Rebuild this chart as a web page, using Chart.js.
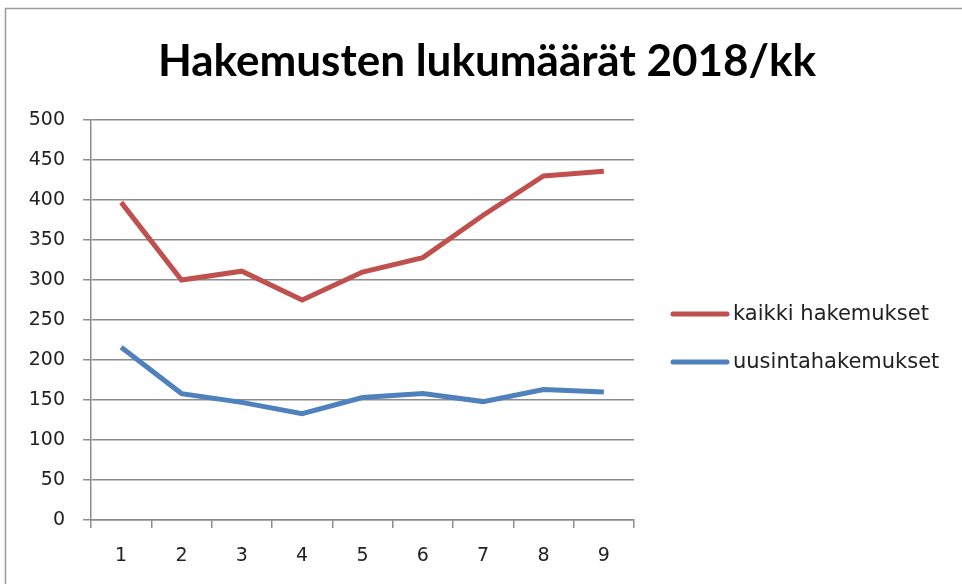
<!DOCTYPE html>
<html>
<head>
<meta charset="utf-8">
<script src="https://cdn.jsdelivr.net/npm/chart.js@4/dist/chart.umd.min.js"></script>
<style>
  html, body { margin: 0; padding: 0; background: #fff; }
  #wrap { width: 962px; height: 584px; }
</style>
</head>
<body>
<div id="wrap"><canvas id="kaavio" width="962" height="584"></canvas></div>
<script>
// kuukaudet ja sarjat
const kuukaudet = ['1', '2', '3', '4', '5', '6', '7', '8', '9'];
const kaikki = [397, 300, 311, 275, 310, 328, 381, 430, 436];
const uusinta = [216, 158, 147, 133, 153, 158, 148, 163, 160];
const yTicks = [0, 50, 100, 150, 200, 250, 300, 350, 400, 450, 500];
const otsikko = 'Hakemusten lukumäärät 2018/kk';

const punainen = '#c0504d';
const sininen = '#4f81bd';
const harmaa = '#8c8c8c';

// tausta, kehys ja otsikko (otsikko keskitetään koko kuvaan, ei piirtoalueeseen)
const kehys = {
    id: 'kehys',
    beforeDraw(chart) {
        const ctx = chart.ctx;
        ctx.save();
        ctx.fillStyle = '#fff';
        ctx.fillRect(0, 0, chart.width, chart.height);
        ctx.strokeStyle = '#9a9a9a';
        ctx.lineWidth = 1.5;
        ctx.strokeRect(5.5, 8.5, chart.width + 10, chart.height + 10);
        ctx.fillStyle = '#000';
        ctx.font = 'bold 44px Lato, "DejaVu Sans Condensed", sans-serif';
        ctx.textAlign = 'center';
        ctx.textBaseline = 'middle';
        ctx.fillText(otsikko, 487, 62, 670);
        ctx.restore();
    }
};

// selite oikealle
const selite = {
    id: 'selite',
    afterDraw(chart) {
        const ctx = chart.ctx;
        ctx.save();
        chart.data.datasets.forEach((ds, i) => {
            const y = 314 + i * 48;
            ctx.strokeStyle = ds.borderColor;
            ctx.lineWidth = 5;
            ctx.lineCap = 'round';
            ctx.beginPath();
            ctx.moveTo(673, y);
            ctx.lineTo(727, y);
            ctx.stroke();
            ctx.fillStyle = '#222';
            ctx.font = '21px "DejaVu Sans"';
            ctx.textBaseline = 'middle';
            ctx.fillText(ds.label, 733, y + 1);
        });
        ctx.restore();
    }
};

new Chart(document.getElementById('kaavio'), {
    type: 'line',
    data: {
        labels: kuukaudet,
        datasets: [
            {
                label: 'kaikki hakemukset',
                data: kaikki,
                borderColor: punainen,
                backgroundColor: punainen,
                borderWidth: 5,
                pointRadius: 0,
                tension: 0
            },
            {
                label: 'uusintahakemukset',
                data: uusinta,
                borderColor: sininen,
                backgroundColor: sininen,
                borderWidth: 5,
                pointRadius: 0,
                tension: 0
            }
        ]
    },
    options: {
        responsive: false,
        animation: false,
        layout: { padding: { left: 0, right: 328, top: 120, bottom: 0 } },
        plugins: {
            legend: { display: false },
            tooltip: { enabled: false },
            title: { display: false }
        },
        scales: {
            x: {
                offset: true,
                grid: {
                    offset: true,
                    drawOnChartArea: false,
                    drawTicks: true,
                    tickLength: 8,
                    color: harmaa,
                    lineWidth: 1.5
                },
                border: { color: harmaa, width: 1.5 },
                ticks: {
                    color: '#222',
                    padding: 17,
                    font: { family: '"DejaVu Sans"', size: 19 }
                },
                afterFit(scale) { scale.height = 64; }
            },
            y: {
                min: 0,
                max: 500,
                afterBuildTicks(scale) { scale.ticks = yTicks.map(v => ({ value: v })); },
                grid: {
                    color: harmaa,
                    lineWidth: 1.5,
                    drawTicks: true,
                    tickLength: 8
                },
                border: { color: harmaa, width: 1.5 },
                ticks: {
                    color: '#222',
                    padding: 18,
                    font: { family: '"DejaVu Sans"', size: 19 }
                },
                afterFit(scale) { scale.width = 91; }
            }
        }
    },
    plugins: [kehys, selite]
});
</script>
</body>
</html>
